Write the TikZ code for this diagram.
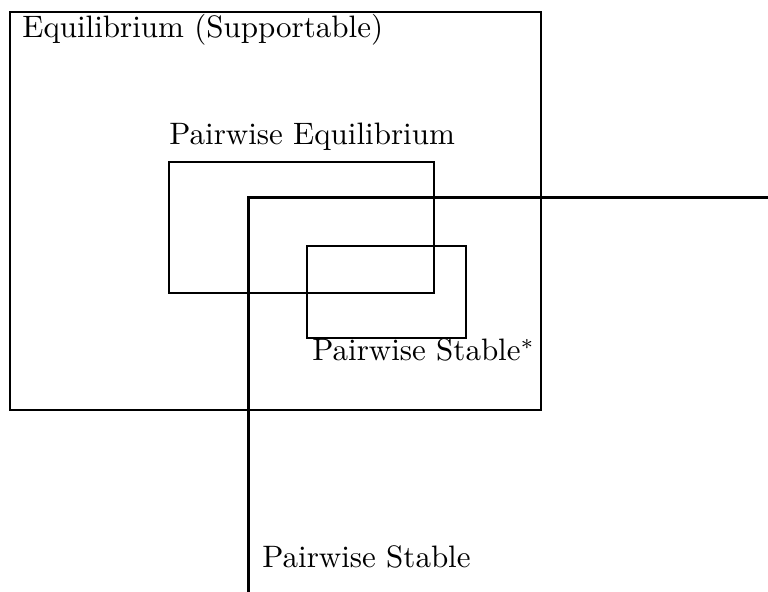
\documentclass[tikz,border=0pt]{standalone}
\usepackage{amssymb}
\usepackage{amsmath}
\newcommand{\setlabel}[1]{\scalebox{1.55}{\fontsize{10}{12}\selectfont #1}}

\begin{document}
\begin{tikzpicture}[x=0.5pt,y=-0.5pt,thin line/.style={line width=1pt},thick line/.style={line width=1.5pt},every node/.style={inner sep=0pt,anchor=base west}]
                        \useasboundingbox (0,0) rectangle (768,592);

                        \draw[thin line] (10,12) rectangle (541,410);
                        \draw[thin line] (169,162) rectangle (434,293);
                        \draw[thin line] (307,246) rectangle (466,338);

                        \coordinate (sbot) at (248,592);
                        \coordinate (scorner) at (248,198);
                        \coordinate (send) at (768,198);
                        \draw[thick line] (sbot) -- (scorner) -- (send);

                        \node (eq) at (22,38) {\setlabel{Equilibrium (Supportable)}};
                        \node (peq) at (169,145) {\setlabel{Pairwise Equilibrium}};
                        \node (pss) at (312,361) {\setlabel{Pairwise Stable$^*$}};
                        \node (ps) at (262,568) {\setlabel{Pairwise Stable}};
                    \end{tikzpicture}
\end{document}
